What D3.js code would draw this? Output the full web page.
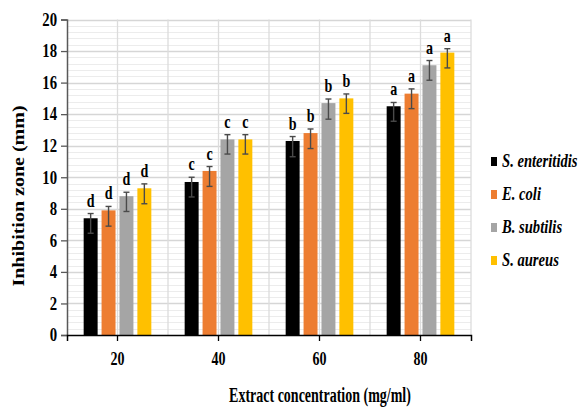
<!DOCTYPE html>
<html>
<head>
<meta charset="utf-8">
<script src="https://cdn.jsdelivr.net/npm/d3@7"></script>
<style>
  body { margin: 0; background: #fff; }
  text { font-family: "Liberation Serif", "Times New Roman", serif; font-weight: bold; }
</style>
</head>
<body>
<div id="chart"></div>
<script>
// concentrations and bacteria
const concentrations = ["20", "40", "60", "80"];
const bacteria = ["S. enteritidis", "E. coli", "B. subtilis", "S. aureus"];
const colors = ["#000000", "#ED7D31", "#A5A5A5", "#FFC000"];

// inhibition zone (mm), one row per concentration, one column per bacterium
const zone = [
  [7.4, 7.9, 8.8, 9.3],
  [9.7, 10.4, 12.4, 12.4],
  [12.3, 12.8, 14.7, 15.0],
  [14.5, 15.3, 17.1, 17.9]
];
// error bars (upper / lower extent)
const errUp = [
  [0.3, 0.25, 0.25, 0.28],
  [0.3, 0.28, 0.3, 0.3],
  [0.28, 0.26, 0.26, 0.28],
  [0.24, 0.3, 0.3, 0.25]
];
const errDown = [
  [0.95, 1.0, 0.97, 0.98],
  [0.95, 0.98, 0.93, 0.93],
  [1.0, 0.98, 1.02, 0.95],
  [0.95, 0.95, 0.95, 0.97]
];
const letters = [
  ["d", "d", "d", "d"],
  ["c", "c", "c", "c"],
  ["b", "b", "b", "b"],
  ["a", "a", "a", "a"]
];
const yTicks = [0, 2, 4, 6, 8, 10, 12, 14, 16, 18, 20];

const W = 579, H = 407;
const plotL = 67, plotR = 471, plotT = 19.5, plotB = 335;
const sx = 0.78; // the original text looks condensed

const svg = d3.select("#chart").append("svg")
  .attr("width", W).attr("height", H);

const x0 = d3.scaleBand().domain(concentrations).range([plotL, plotR])
  .paddingInner(0.33).paddingOuter(0.165);
const x1 = d3.scaleBand().domain(bacteria).range([0, x0.bandwidth()])
  .paddingInner(0.22);
const y = d3.scaleLinear().domain([0, 20]).range([plotB, plotT]);

// minor grid
svg.append("g").selectAll("line")
  .data(d3.range(0, 20.01, 0.4))
  .join("line")
  .attr("x1", plotL).attr("x2", plotR)
  .attr("y1", d => Math.round(y(d)) + 0.5).attr("y2", d => Math.round(y(d)) + 0.5)
  .attr("stroke", "#ececec").attr("stroke-width", 1);

// major grid
svg.append("g").selectAll("line")
  .data(yTicks.slice(1))
  .join("line")
  .attr("x1", plotL).attr("x2", plotR)
  .attr("y1", d => Math.round(y(d)) + 0.5).attr("y2", d => Math.round(y(d)) + 0.5)
  .attr("stroke", "#d6d6d6").attr("stroke-width", 1.4);

// vertical grid: category centres and boundaries
const step = x0.step();
const vLines = [];
concentrations.forEach((c, i) => {
  vLines.push(plotL + i * step + step / 2);
  vLines.push(plotL + (i + 1) * step);
});
svg.append("g").selectAll("line")
  .data(vLines)
  .join("line")
  .attr("x1", d => d).attr("x2", d => d)
  .attr("y1", plotT).attr("y2", plotB)
  .attr("stroke", "#dcdcdc").attr("stroke-width", 1.3);

// bars
const groups = svg.append("g").selectAll("g")
  .data(concentrations)
  .join("g")
  .attr("transform", d => `translate(${x0(d)},0)`);

groups.each(function(c, i) {
  const g = d3.select(this);
  bacteria.forEach((b, j) => {
    const v = zone[i][j];
    const bx = x1(b), bw = x1.bandwidth();
    g.append("rect")
      .attr("x", bx).attr("width", bw)
      .attr("y", y(v)).attr("height", y(0) - y(v))
      .attr("fill", colors[j]);
    const cx = bx + bw / 2;
    const yt = y(v + errUp[i][j]), yb = y(v - errDown[i][j]);
    g.append("line").attr("x1", cx).attr("x2", cx).attr("y1", yt).attr("y2", yb)
      .attr("stroke", "#4a4a4a").attr("stroke-width", 1.4);
    [yt, yb].forEach(yy => g.append("line")
      .attr("x1", cx - 3).attr("x2", cx + 3).attr("y1", yy).attr("y2", yy)
      .attr("stroke", "#4a4a4a").attr("stroke-width", 1.4));
    g.append("text")
      .attr("transform", `translate(${cx},${yt - 7}) scale(${sx},1)`)
      .attr("text-anchor", "middle")
      .style("font-size", "18px")
      .text(letters[i][j]);
  });
});

// axes
const yAxis = svg.append("g")
  .attr("transform", `translate(${plotL},0)`)
  .call(d3.axisLeft(y).tickValues(yTicks).tickSize(6).tickPadding(4));
yAxis.select(".domain").attr("stroke", "#595959").attr("stroke-width", 1.5);
yAxis.selectAll(".tick line").attr("stroke", "#595959").attr("stroke-width", 1.3);
yAxis.selectAll(".tick text")
  .attr("fill", "#000")
  .style("font-size", "18px")
  .attr("transform", "scale(0.82,1)")
  .attr("x", -10 / 0.82);

const xAxis = svg.append("g")
  .attr("transform", `translate(0,${plotB})`)
  .call(d3.axisBottom(x0).tickSize(6).tickSizeOuter(6));
xAxis.select(".domain").attr("stroke", "#000").attr("stroke-width", 1.5);
xAxis.selectAll(".tick line").attr("stroke", "#000").attr("stroke-width", 1.3);
xAxis.selectAll(".tick text")
  .attr("fill", "#000")
  .style("font-size", "18px")
  .attr("y", 30).attr("dy", 0)
  .attr("transform", `scale(${sx},1)`);

// axis titles
svg.append("text")
  .attr("transform", "translate(24,196) rotate(-90) scale(1,0.8)")
  .attr("text-anchor", "middle")
  .style("font-size", "20px")
  .text("Inhibition zone (mm)");

svg.append("text")
  .attr("transform", "translate(320,402) scale(0.7,1)")
  .attr("text-anchor", "middle")
  .style("font-size", "20px")
  .text("Extract concentration (mg/ml)");

// legend
const legend = svg.append("g").selectAll("g")
  .data(bacteria)
  .join("g")
  .attr("transform", (d, i) => `translate(491,${167 + i * 33})`);
legend.append("rect")
  .attr("x", 0).attr("y", -10).attr("width", 6).attr("height", 9)
  .attr("fill", (d, i) => colors[i]);
legend.append("text")
  .attr("transform", "translate(11,0) scale(0.77,1)")
  .style("font-size", "19px")
  .style("font-style", "italic")
  .text(d => d);
</script>
</body>
</html>
